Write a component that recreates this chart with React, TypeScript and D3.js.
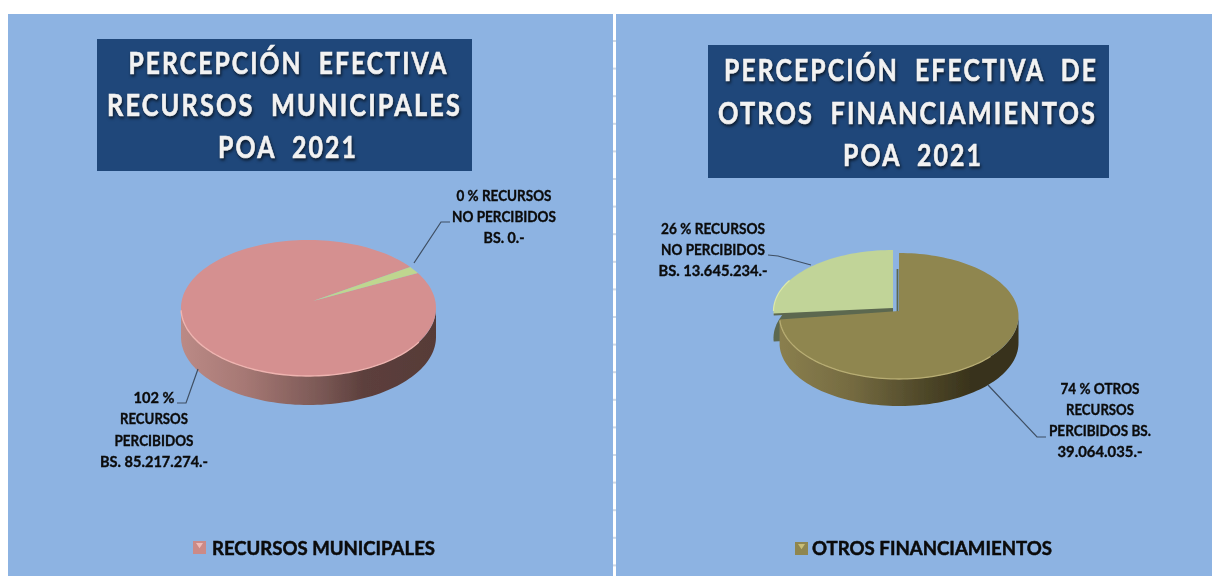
import React from 'react';
import * as d3 from 'd3';

// values
const leftCategories = ['RECURSOS PERCIBIDOS', 'RECURSOS NO PERCIBIDOS'];
const leftShares = [98.3, 1.7]; // the sliver is drawn bigger than its 0 % label
const rightCategories = ['OTROS RECURSOS PERCIBIDOS', 'RECURSOS NO PERCIBIDOS'];
const rightValues = [39064035, 13645234];

const leftTitle = ['PERCEPCIÓN  EFECTIVA', 'RECURSOS  MUNICIPALES', 'POA  2021'];
const rightTitle = ['PERCEPCIÓN  EFECTIVA  DE', 'OTROS  FINANCIAMIENTOS', 'POA  2021'];
const leftLabelA = ['0 % RECURSOS', 'NO PERCIBIDOS', 'BS. 0.-'];
const leftLabelB = ['102 %', 'RECURSOS', 'PERCIBIDOS', 'BS. 85.217.274.-'];
const rightLabelA = ['26 % RECURSOS', 'NO PERCIBIDOS', 'BS. 13.645.234.-'];
const rightLabelB = ['74 % OTROS', 'RECURSOS', 'PERCIBIDOS BS.', '39.064.035.-'];
const leftLegend = 'RECURSOS MUNICIPALES';
const rightLegend = 'OTROS FINANCIAMIENTOS';

const FONT = 'Lato, Carlito, sans-serif';
const BG = '#8db3e2';
const INK = '#0b0b0b';
const deg = Math.PI / 180;

type Ellipse = { cx: number; cy: number; rx: number; ry: number };
type Pt = [number, number];

const rim = (e: Ellipse, a: number): Pt => [e.cx + e.rx * Math.sin(a), e.cy - e.ry * Math.cos(a)];
const line = d3.line<Pt>();

function rimPoints(e: Ellipse, a0: number, a1: number): Pt[] {
  const n = Math.max(2, Math.ceil(Math.abs(a1 - a0) / (2 * deg)));
  return d3.range(n + 1).map((i) => rim(e, a0 + ((a1 - a0) * i) / n));
}

function slicePath(e: Ellipse, apex: Pt, a0: number, a1: number) {
  return line([apex, ...rimPoints(e, a0, a1)]) + 'Z';
}

// side wall of the disc, lower half only
function wallPath(e: Ellipse, depth: number, a0: number, a1: number) {
  const top = rimPoints(e, a0, a1);
  const bottom = top.map(([x, y]) => [x, y + depth] as Pt).reverse();
  return line([...top, ...bottom]) + 'Z';
}

function Lines({ lines, x, ys, widths, size, fill = INK, bold = 0.35, spacing = 0, style }: any) {
  return (
    <g>
      {lines.map((t: string, i: number) => (
        <text
          key={i}
          x={x[i] ?? x}
          y={ys[i]}
          textAnchor="middle"
          textLength={widths[i]}
          lengthAdjust="spacingAndGlyphs"
          letterSpacing={spacing}
          fontFamily={FONT}
          fontWeight={700}
          fontSize={size}
          fill={fill}
          stroke={fill}
          strokeWidth={bold}
          style={{ whiteSpace: 'pre', filter: 'blur(0.3px)', ...style }}
        >
          {t}
        </text>
      ))}
    </g>
  );
}

const titleStyle = { filter: 'blur(0.3px) drop-shadow(1px 2px 1.5px rgba(0,0,0,0.65))' };

function Leader({ pts }: { pts: Pt[] }) {
  return <path d={line(pts) as string} fill="none" stroke="#3f4f63" strokeWidth={1.2} />;
}

function Swatch({ x, y, size, fill, tip }: any) {
  const c = x + size / 2;
  return (
    <g filter="url(#soft)">
      <rect x={x} y={y} width={size} height={size} fill={fill} />
      <path d={line([[x + 3, y + 2], [x + size - 3, y + 2], [c, y + size * 0.55]]) + 'Z'} fill={tip} />
    </g>
  );
}

export default function App() {
  // left pie
  const lPie = d3
    .pie<number>()
    .sort(null)
    .startAngle(59 * deg)
    .endAngle(419 * deg)(leftShares);
  const lE: Ellipse = { cx: 308.5, cy: 308, rx: 127.5, ry: 68 };
  const lApex: Pt = [313, 301];
  const lDepth = 29;

  // right pie
  const rPie = d3
    .pie<number>()
    .sort(null)
    .startAngle(0)
    .endAngle(2 * Math.PI)(rightValues);
  const rE: Ellipse = { cx: 899, cy: 316, rx: 119.5, ry: 63 };
  const rApex: Pt = [899, 311];
  const rDepth = 27;
  const gE: Ellipse = { cx: 893, cy: 311, rx: 119.5, ry: 61 };
  const gApex: Pt = [893, 309];

  const gSlice = slicePath(gE, gApex, rPie[1].startAngle, rPie[1].endAngle);
  const gLeft = rim(gE, rPie[1].startAngle);

  const dividerTicks = d3.range(41, 576, 27.6);

  return (
    <svg
      width={1212}
      height={576}
      style={{ position: 'absolute', left: 0, top: 0, display: 'block', background: '#fff' }}
    >
      <defs>
        <filter id="soft" x="-5%" y="-5%" width="110%" height="110%">
          <feGaussianBlur stdDeviation={0.6} />
        </filter>
        <linearGradient id="wallPink" x1={0} x2={1} y1={0} y2={0}>
          <stop offset="0" stopColor="#bb8a86" />
          <stop offset="0.25" stopColor="#a67874" />
          <stop offset="0.55" stopColor="#7a5855" />
          <stop offset="0.72" stopColor="#5c3f3c" />
          <stop offset="1" stopColor="#573b38" />
        </linearGradient>
        <linearGradient id="wallOlive" x1={0} x2={1} y1={0} y2={0}>
          <stop offset="0" stopColor="#8a7f4e" />
          <stop offset="0.3" stopColor="#756b41" />
          <stop offset="0.6" stopColor="#4f4829" />
          <stop offset="0.8" stopColor="#39331c" />
          <stop offset="1" stopColor="#38321c" />
        </linearGradient>
      </defs>

      <rect x={8} y={14} width={605} height={562} fill={BG} />
      <rect x={616} y={14} width={596} height={562} fill={BG} />
      {dividerTicks.map((y) => (
        <rect key={y} x={613} y={y - 1} width={3} height={2} fill="#cfd8e4" />
      ))}

      {/* left panel */}
      <rect x={97} y={39} width={375} height={132} fill="#1f477a" />
      <Lines
        lines={leftTitle}
        x={[288.5, 284.5, 288]}
        ys={[74, 116, 158]}
        widths={[320, 355, 140]}
        size={30}
        fill="#f2f2f2"
        bold={0.6}
        spacing={2.5}
        style={titleStyle}
      />

      <g filter="url(#soft)">
        <path d={wallPath(lE, lDepth, 90 * deg, 270 * deg)} fill="url(#wallPink)" />
        {lPie.map((d, i) => (
          <path
            key={leftCategories[i]}
            d={slicePath(lE, lApex, d.startAngle, d.endAngle)}
            fill={i === 0 ? '#d59090' : '#bfd68f'}
          >
            <title>{leftCategories[i]}</title>
          </path>
        ))}
        <path
          d={line(rimPoints(lE, 120 * deg, 268 * deg)) as string}
          fill="none"
          stroke="#efb4b0"
          strokeWidth={1.4}
        />
      </g>
      <Leader pts={[[414, 263], [441, 222], [450, 222]]} />
      <Leader pts={[[198, 369], [186, 403], [177, 403]]} />
      <Lines lines={leftLabelA} x={504} ys={[201, 222, 243]} widths={[95, 104, 41]} size={15} />
      <Lines lines={leftLabelB} x={154} ys={[403, 424, 446, 467]} widths={[41, 68, 79, 108]} size={15} />

      <Swatch x={193} y={541} size={13} fill="#cc8a87" tip="#f0bcb8" />
      <Lines lines={[leftLegend]} x={323.5} ys={[555]} widths={[223]} size={19} bold={0.5} />

      {/* right panel */}
      <rect x={708} y={45} width={401} height={133} fill="#1f477a" />
      <Lines
        lines={rightTitle}
        x={[911, 907.5, 913]}
        ys={[81, 124, 166]}
        widths={[374, 379, 140]}
        size={30}
        fill="#f2f2f2"
        bold={0.6}
        spacing={2.5}
        style={titleStyle}
      />

      <g filter="url(#soft)">
        <path d={gSlice} transform={`translate(0,${rDepth})`} fill="#5c6850" />
        <path d={wallPath(rE, rDepth, 90 * deg, 268 * deg)} fill="url(#wallOlive)" />
        <path d={gSlice} fill="#c1d498" />
        <path
          d={line(rimPoints(gE, 270 * deg, 300 * deg)) as string}
          fill="none"
          stroke="#dde9a9"
          strokeWidth={1.2}
        />
        {/* dark cut faces along the gap between the two slices */}
        <path d={line([gLeft, gApex]) as string} fill="none" stroke="#5c6850" strokeWidth={2} />
        <path
          d={line([[rApex[0] - 1.5, rApex[1] + 1], [rApex[0] - 1.5, rApex[1] - 42]]) as string}
          fill="none"
          stroke="#5c6850"
          strokeWidth={1.8}
        />
        <path d={slicePath(rE, rApex, rPie[0].startAngle, rPie[0].endAngle)} fill="#8f8650">
          <title>{rightCategories[0]}</title>
        </path>
        <path
          d={line(rimPoints(rE, 130 * deg, 266 * deg)) as string}
          fill="none"
          stroke="#b8ad72"
          strokeWidth={1.3}
        />
      </g>
      <Leader pts={[[768, 255], [778, 256], [811, 265]]} />
      <Leader pts={[[988, 385], [1037, 437], [1046, 437]]} />
      <Lines lines={rightLabelA} x={713} ys={[234, 255, 276]} widths={[104, 104, 109]} size={15} />
      <Lines lines={rightLabelB} x={1100} ys={[394, 415, 436, 457]} widths={[79, 68, 102, 85]} size={15} />

      <Swatch x={795} y={542} size={13} fill="#8f8650" tip="#c9bd74" />
      <Lines lines={[rightLegend]} x={932} ys={[555]} widths={[240]} size={19} bold={0.5} />
    </svg>
  );
}
